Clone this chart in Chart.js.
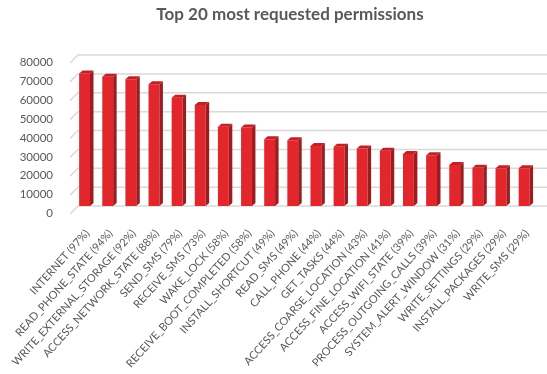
<!DOCTYPE html>
<html>
<head>
<meta charset="utf-8">
<script src="https://cdn.jsdelivr.net/npm/chart.js@4.4.0/dist/chart.umd.min.js"></script>
<style>
  html, body { margin: 0; padding: 0; background: #fff; }
  #wrap { width: 547px; height: 374px; position: relative; }
</style>
</head>
<body>
<div id="wrap"><canvas id="permChart"></canvas></div>
<script>
// permission names with share of apps requesting them
const categories = [
    'INTERNET (97%)', 'READ_PHONE_STATE (94%)', 'WRITE_EXTERNAL_STORAGE (92%)',
    'ACCESS_NETWORK_STATE (88%)', 'SEND_SMS (79%)', 'RECEIVE_SMS (73%)',
    'WAKE_LOCK (58%)', 'RECEIVE_BOOT_COMPLETED (58%)', 'INSTALL_SHORTCUT (49%)',
    'READ_SMS (49%)', 'CALL_PHONE (44%)', 'GET_TASKS (44%)',
    'ACCESS_COARSE_LOCATION (43%)', 'ACCESS_FINE_LOCATION (41%)', 'ACCESS_WIFI_STATE (39%)',
    'PROCESS_OUTGOING_CALLS (39%)', 'SYSTEM_ALERT_WINDOW (31%)', 'WRITE_SETTINGS (29%)',
    'INSTALL_PACKAGES (29%)', 'WRITE_SMS (29%)'
];
// number of apps requesting each permission
const requestCounts = [
    70200, 68500, 67100, 64500, 57400, 53500, 42000, 41600, 35300, 34900,
    31800, 31400, 30500, 29300, 27500, 26900, 21700, 20300, 20000, 20000
];
const yTicks = [0, 10000, 20000, 30000, 40000, 50000, 60000, 70000, 80000];

const TEXT_GREY = '#595959';
const DEPTH_X = 3.5, DEPTH_Y = 3;

// back wall gridlines with the little slanted edge on the left
const backWall = {
    id: 'backWall',
    beforeDatasetsDraw(chart) {
        const { ctx, chartArea, scales } = chart;
        ctx.save();
        ctx.strokeStyle = '#d9d9d9';
        ctx.lineWidth = 1.5;
        scales.y.ticks.forEach(t => {
            const py = scales.y.getPixelForValue(t.value);
            ctx.beginPath();
            ctx.moveTo(chartArea.left - 3, py + 8);
            ctx.lineTo(chartArea.left + 5, py);
            ctx.lineTo(chart.width, py);
            ctx.stroke();
        });
        ctx.restore();
    }
};

// side and top faces so the columns look solid
const bar3d = {
    id: 'bar3d',
    afterDatasetsDraw(chart) {
        const ctx = chart.ctx;
        const meta = chart.getDatasetMeta(0);
        ctx.save();
        meta.data.forEach(bar => {
            const { x, y, base, width } = bar.getProps(['x', 'y', 'base', 'width'], true);
            const l = x - width / 2, r = x + width / 2;
            ctx.fillStyle = '#9e1b1f';
            ctx.beginPath();
            ctx.moveTo(r, y);
            ctx.lineTo(r + DEPTH_X, y - DEPTH_Y);
            ctx.lineTo(r + DEPTH_X, base - DEPTH_Y);
            ctx.lineTo(r, base);
            ctx.closePath();
            ctx.fill();
            ctx.fillStyle = '#c41f25';
            ctx.beginPath();
            ctx.moveTo(l, y);
            ctx.lineTo(l + DEPTH_X, y - DEPTH_Y);
            ctx.lineTo(r + DEPTH_X, y - DEPTH_Y);
            ctx.lineTo(r, y);
            ctx.closePath();
            ctx.fill();
        });
        ctx.restore();
    }
};

// title sits a bit right of centre
const titleText = {
    id: 'titleText',
    afterDraw(chart) {
        const ctx = chart.ctx;
        ctx.save();
        ctx.font = 'bold 17px Lato';
        ctx.fillStyle = TEXT_GREY;
        ctx.textAlign = 'center';
        ctx.textBaseline = 'middle';
        ctx.fillText('Top 20 most requested permissions', 290, 15);
        ctx.restore();
    }
};

const ctx = document.getElementById('permChart').getContext('2d');
new Chart(ctx, {
    type: 'bar',
    data: {
        labels: categories,
        datasets: [{
            data: requestCounts,
            backgroundColor: '#e3262c',
            borderWidth: 0,
            barPercentage: 0.47,
            categoryPercentage: 1
        }]
    },
    options: {
        responsive: true,
        maintainAspectRatio: false,
        animation: false,
        layout: { padding: { top: 55, right: 3, left: 0, bottom: 0 } },
        plugins: {
            legend: { display: false },
            tooltip: { enabled: false },
            title: { display: false }
        },
        scales: {
            y: {
                min: 0,
                max: 80000,
                afterBuildTicks: scale => { scale.ticks = yTicks.map(v => ({ value: v })); },
                afterFit: scale => { scale.width = 73; },
                border: { display: false },
                grid: { display: false },
                ticks: {
                    color: TEXT_GREY,
                    font: { size: 11.5, family: 'Lato' },
                    padding: 12,
                    labelOffset: 7.5,
                    callback: v => String(v)
                }
            },
            x: {
                afterFit: scale => { scale.height = 168; },
                border: { display: false },
                grid: { display: false },
                ticks: {
                    color: TEXT_GREY,
                    font: { size: 11, family: 'Lato' },
                    autoSkip: false,
                    minRotation: 48,
                    maxRotation: 48,
                    padding: 13,
                    labelOffset: 3
                }
            }
        }
    },
    plugins: [backWall, bar3d, titleText]
});
</script>
</body>
</html>
